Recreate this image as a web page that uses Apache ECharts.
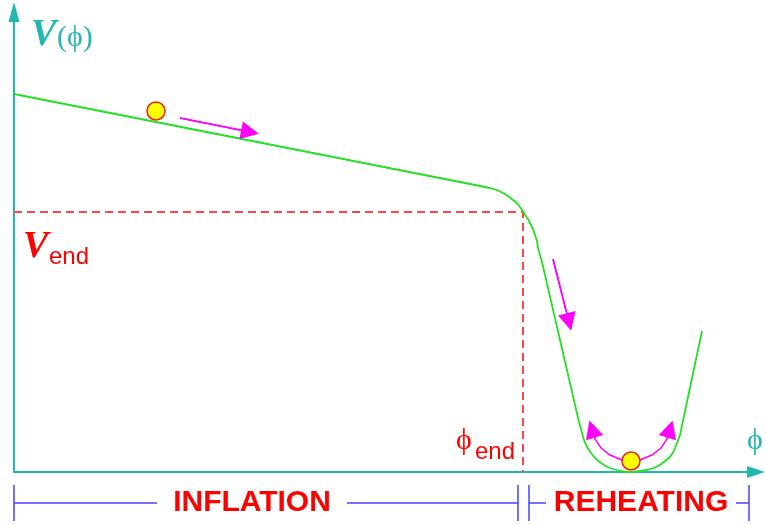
<!DOCTYPE html>
<html>
<head>
<meta charset="utf-8">
<script src="https://cdn.jsdelivr.net/npm/echarts@6/dist/echarts.min.js"></script>
<style>
html, body { margin: 0; padding: 0; background: #fff; }
#chart { width: 766px; height: 525px; }
</style>
</head>
<body>
<div id="chart"></div>
<script>
// potential V(phi) (arbitrary units, origin at the axes corner)
const phi = [0, 456, 466, 476, 483, 489, 494, 499, 503, 506, 509, 511, 514, 516, 519, 521, 523, 524, 526, 528,
             565, 568, 570, 573, 577, 581, 587, 593, 599, 606, 613, 619, 626, 633, 640, 646, 651, 656, 660, 663, 666, 688]
const V   = [378, 288, 286, 284, 282, 279, 276, 272, 269, 265, 261, 257, 253, 249, 243, 237, 231, 224, 217, 210,
             50, 39, 32, 25, 19, 14, 9, 5, 3, 1, 0, 0, 1, 2, 4, 7, 11, 15, 21, 29, 37, 141]

// end of inflation
const phiEnd = 509
const vEnd = 260

// rolling field
const balls = [[142, 361], [617, 11]]
const arrows = [
  [[166, 354], [236, 340]],
  [[539, 213], [555, 150]],
  [[608, 12], [596, 17], [587, 24], [581, 33], [578, 43]],
  [[626, 12], [638, 17], [647, 24], [653, 33], [656, 43]]
]

// phases under the axis
const phaseNames = ['INFLATION', 'REHEATING']
const phaseFrom = [0, 515]
const phaseTo = [504, 735]
const phaseMid = [238, 627]
const labelHalf = 95

const chart = echarts.init(document.getElementById('chart'))

const teal = '#22b8b2'
const red = '#ff0000'
const serif = '"Liberation Serif", "DejaVu Serif", serif'
const sans = '"Liberation Sans", Arial, sans-serif'

const option = {
  animation: false,
  backgroundColor: '#fff',
  grid: { left: 14, right: 10, top: 12, bottom: 53 },
  xAxis: {
    type: 'value', min: 0, max: 742,
    axisLine: { show: true, symbol: ['none', 'triangle'], symbolSize: [12, 18], lineStyle: { color: teal, width: 2 } },
    axisTick: { show: false }, axisLabel: { show: false }, splitLine: { show: false }
  },
  yAxis: {
    type: 'value', min: 0, max: 460,
    axisLine: { show: true, symbol: ['none', 'triangle'], symbolSize: [11, 20], lineStyle: { color: teal, width: 2 } },
    axisTick: { show: false }, axisLabel: { show: false }, splitLine: { show: false }
  },
  series: [
    {
      name: 'V',
      type: 'line',
      data: phi.map((p, i) => [p, V[i]]),
      showSymbol: false,
      lineStyle: { color: '#22e022', width: 1.8 },
      z: 3
    },
    {
      name: 'end',
      type: 'line',
      data: [[0, vEnd], [phiEnd, vEnd], [phiEnd, 0]],
      showSymbol: false,
      lineStyle: { color: '#ff4545', width: 2, type: [8, 5] },
      z: 2
    },
    {
      type: 'lines',
      coordinateSystem: 'cartesian2d',
      polyline: true,
      data: arrows.map(a => ({ coords: a })),
      lineStyle: { color: '#ff00ff', width: 1.5, opacity: 1 },
      z: 4
    },
    {
      type: 'lines',
      coordinateSystem: 'cartesian2d',
      symbol: ['none', 'triangle'],
      symbolSize: [11, 18],
      data: arrows.map(a => ({ coords: a.slice(-2) })),
      lineStyle: { color: '#ff00ff', width: 1.5, opacity: 1 },
      itemStyle: { color: '#ff00ff' },
      z: 4
    },
    {
      type: 'scatter',
      data: balls,
      symbolSize: 18,
      itemStyle: { color: '#ffff00', borderColor: '#ee2020', borderWidth: 1.5, opacity: 1 },
      z: 5
    }
  ]
}
chart.setOption(option)

// labels and phase brackets
const px = (x, y) => chart.convertToPixel({ gridIndex: 0 }, [x, y])
const graphics = []
const blue = '#4545ff'
const by = 503
const seg = (x1, y1, x2, y2) => graphics.push({
  type: 'line', shape: { x1, y1, x2, y2 }, style: { stroke: blue, lineWidth: 1.5 }
})
phaseNames.forEach((name, i) => {
  const a = px(phaseFrom[i], 0)[0]
  const b = px(phaseTo[i], 0)[0]
  const m = px(phaseMid[i], 0)[0]
  seg(a, 485, a, 521)
  seg(b, 485, b, 521)
  seg(a, by, m - labelHalf, by)
  seg(m + labelHalf, by, b, by)
  graphics.push({
    type: 'text',
    style: { text: name, x: m, y: by, align: 'center', verticalAlign: 'middle', fill: red, font: 'bold 30px ' + sans }
  })
})

const txt = (text, x, y, fill, font) => graphics.push({
  type: 'text', style: { text, x, y, align: 'left', verticalAlign: 'middle', fill, font }
})
txt('V', 31, 35, teal, 'italic bold 38px ' + serif)
txt('(ϕ)', 57, 38, teal, '30px ' + serif)
txt('V', 23, 247, red, 'italic bold 38px ' + serif)
txt('end', 49, 257, red, '24px ' + sans)
txt('ϕ', 456, 441, red, '30px ' + serif)
txt('end', 475, 452, red, '24px ' + sans)
txt('ϕ', 747, 441, teal, '30px ' + serif)

chart.setOption({ graphic: graphics })
</script>
</body>
</html>
